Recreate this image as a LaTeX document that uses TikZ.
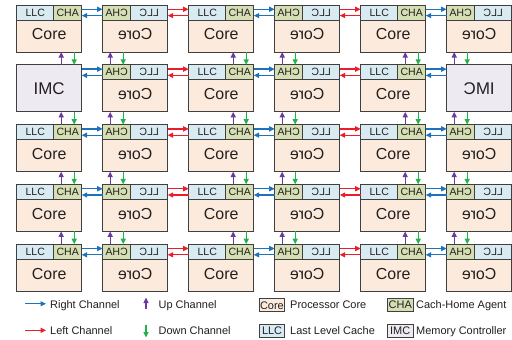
\documentclass[tikz,border=0pt]{standalone}
\usepackage{fontspec}
\setmainfont{Liberation Sans}
\usepackage{graphicx}
\usetikzlibrary{arrows.meta,calc}
\definecolor{llcF}{HTML}{D8EBF3}
\definecolor{chaF}{HTML}{D5DFB3}
\definecolor{coreF}{HTML}{FCEBDC}
\definecolor{imcF}{HTML}{EEEAF2}
\definecolor{bordC}{HTML}{3F3F3F}
\definecolor{txtC}{HTML}{231F20}
\definecolor{blueA}{HTML}{1C72BE}
\definecolor{redA}{HTML}{EC1C2A}
\definecolor{purpA}{HTML}{6A3A9C}
\definecolor{greenA}{HTML}{22B24C}
\begin{document}
\begin{tikzpicture}[x=1bp,y=-1bp,
  tilebox/.style={rectangle,draw=bordC,line width=0.9bp,fill=coreF,minimum width=65bp,minimum height=47bp,inner sep=0pt,outer sep=0pt,anchor=north west},
  imcbox/.style={tilebox,fill=imcF},
  llcbox/.style={rectangle,draw=bordC,line width=0.9bp,fill=llcF,minimum width=37bp,minimum height=15bp,inner sep=0pt,outer sep=0pt,text=txtC,font=\fontsize{10.6}{12}\selectfont},
  chabox/.style={llcbox,fill=chaF,minimum width=28bp},
  bigtxt/.style={inner sep=0pt,text=txtC,font=\fontsize{16}{18}\selectfont},
  imctxt/.style={inner sep=0pt,text=txtC,font=\fontsize{17}{19}\selectfont},
  chan/.style={line width=1.3bp,-{Triangle[length=5.5bp,width=5bp]}},
  legtxt/.style={inner sep=0pt,text=txtC,font=\fontsize{11}{13}\selectfont,anchor=base west},
  legbox/.style={rectangle,draw=bordC,line width=0.8bp,minimum width=25.5bp,minimum height=13bp,inner sep=0pt,text=txtC,font=\fontsize{11}{13}\selectfont}
]
\useasboundingbox (0,0) rectangle (512,339);
\fill[white] (0,0) rectangle (512,339);

% tiles
\foreach \row in {1,...,5}{
  \foreach \col in {1,...,6}{
    \pgfmathsetmacro\xl{16.7+86*(\col-1)}
    \pgfmathsetmacro\yt{5+59.8*(\row-1)}
    \pgfmathtruncatemacro\isimc{and(\row==2,or(\col==1,\col==6))}
    \ifnum\isimc=1\relax
      \node[imcbox] (T-\row-\col) at (\xl,\yt) {};
      \ifodd\col\relax
        \node[imctxt] (M-\row-\col) at (T-\row-\col.center) {IMC};
      \else
        \node[imctxt] (M-\row-\col) at (T-\row-\col.center) {\reflectbox{IMC}};
      \fi
    \else
      \node[tilebox] (T-\row-\col) at (\xl,\yt) {};
      \ifodd\col\relax
        \node[llcbox,anchor=north west] (L-\row-\col) at (T-\row-\col.north west) {LLC};
        \node[chabox,anchor=north east] (H-\row-\col) at (T-\row-\col.north east) {CHA};
        \node[bigtxt] (C-\row-\col) at ([yshift=-6bp]T-\row-\col.center) {Core};
      \else
        \node[chabox,anchor=north west] (H-\row-\col) at (T-\row-\col.north west) {\reflectbox{CHA}};
        \node[llcbox,anchor=north east] (L-\row-\col) at (T-\row-\col.north east) {\reflectbox{LLC}};
        \node[bigtxt] (C-\row-\col) at ([yshift=-6bp]T-\row-\col.center) {\reflectbox{Core}};
      \fi
    \fi
  }
}

% horizontal channels
\foreach \row in {1,...,5}{
  \foreach \col in {1,...,5}{
    \pgfmathtruncatemacro\nc{\col+1}
    \ifodd\col\relax \def\cc{blueA}\else \def\cc{redA}\fi
    \draw[chan,draw=\cc,fill=\cc] ([yshift=-4.3bp]T-\row-\col.north east) -- ([yshift=-4.3bp]T-\row-\nc.north west);
    \draw[chan,draw=\cc,fill=\cc] ([yshift=-10.6bp]T-\row-\nc.north west) -- ([yshift=-10.6bp]T-\row-\col.north east);
  }
}

% vertical channels
\foreach \row in {1,...,4}{
  \foreach \col in {1,...,6}{
    \pgfmathtruncatemacro\nr{\row+1}
    \ifodd\col\relax \def\dpx{44.5}\def\dgx{57.5}\else \def\dpx{7.5}\def\dgx{20.5}\fi
    \draw[chan,draw=purpA,fill=purpA] ($(T-\nr-\col.north west)+(\dpx,0)$) -- ($(T-\row-\col.south west)+(\dpx,0)$);
    \draw[chan,draw=greenA,fill=greenA] ($(T-\row-\col.south west)+(\dgx,0)$) -- ($(T-\nr-\col.north west)+(\dgx,0)$);
  }
}

% legend
\coordinate (rb0) at (25,303.7); \coordinate (rb1) at (46,303.7);
\coordinate (lr0) at (25,330.3); \coordinate (lr1) at (46,330.3);
\coordinate (up0) at (146,309); \coordinate (up1) at (146,297.5);
\coordinate (dn0) at (146,324.5); \coordinate (dn1) at (146,337.5);
\draw[chan,draw=blueA,fill=blueA] (rb0) -- (rb1);
\draw[chan,draw=redA,fill=redA] (lr0) -- (lr1);
\draw[chan,draw=purpA,fill=purpA] (up0) -- (up1);
\draw[chan,draw=greenA,fill=greenA] (dn0) -- (dn1);
\node[legtxt] (tR) at (50,308) {Right Channel};
\node[legtxt] (tL) at (50,334.2) {Left Channel};
\node[legtxt] (tU) at (158.5,308) {Up Channel};
\node[legtxt] (tD) at (158.5,334.2) {Down Channel};

\node[legbox,fill=coreF] (bCore) at (271.9,305.3) {Core};
\node[legbox,fill=llcF] (bLLC) at (272.1,330.6) {LLC};
\node[legbox,fill=chaF] (bCHA) at (400.3,305.1) {CHA};
\node[legbox,fill=imcF] (bIMC) at (400.2,330.8) {IMC};
\node[legtxt] (tCore) at (290,308) {Processor Core};
\node[legtxt] (tLLC) at (290,334.5) {Last Level Cache};
\node[legtxt] (tCHA) at (416,308) {Cach-Home Agent};
\node[legtxt] (tIMC) at (416,334.5) {Memory Controller};
\end{tikzpicture}
\end{document}
